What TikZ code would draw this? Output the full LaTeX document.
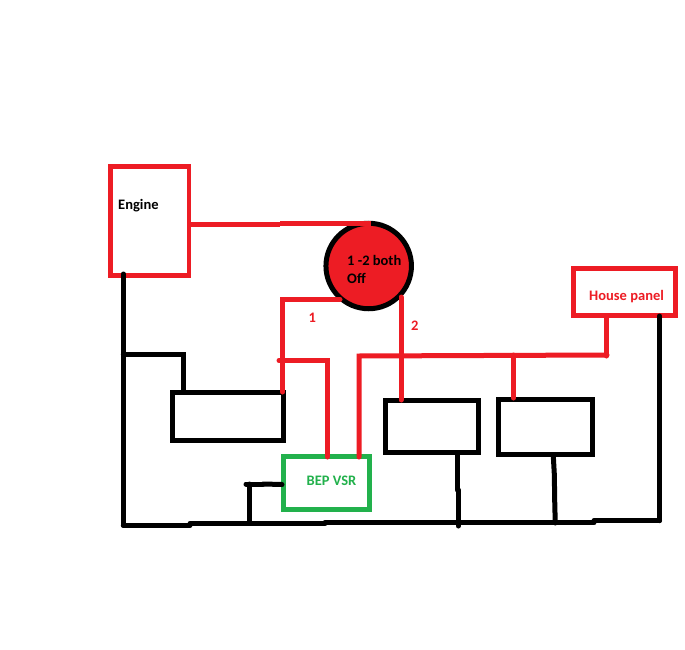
\documentclass[tikz,border=0pt]{standalone}
\usepackage{fontspec}
\setmainfont{Carlito}[BoldFont=* Bold]
\definecolor{wred}{HTML}{ED1C24}
\definecolor{wgreen}{HTML}{22B14C}
\tikzset{
  box/.style={draw=#1,line width=4.5pt,inner sep=0pt},
  lab/.style={anchor=west,inner sep=0pt,font=\fontsize{14.5}{16}\selectfont\bfseries,text=#1},
  redw/.style={draw=wred,line width=5pt,line cap=round,line join=miter},
  blkw/.style={draw=black,line width=5pt,line cap=round,line join=miter}
}
\newcommand{\boxat}[6]{\node[box=#6,minimum width=#4-#2,minimum height=#5-#3] (#1) at ({(#2+#4)/2},{(#3+#5)/2}) {};}
\begin{document}
\begin{tikzpicture}[x=1pt,y=-1pt]
\useasboundingbox[fill=white] (0,0) rectangle (685,650);
% boxes
\boxat{engine}{110.5}{166.5}{188.8}{275.5}{wred}
\boxat{house}{573.5}{268.5}{675.7}{315.5}{wred}
\boxat{batA}{172.5}{392.5}{283.5}{440.5}{black}
\boxat{batB}{385.5}{400.5}{478.5}{452.5}{black}
\boxat{batC}{498.5}{399.5}{592.7}{454.5}{black}
\boxat{vsr}{283.5}{456.5}{369.7}{509.7}{wgreen}
\node[circle,draw=black,fill=wred,line width=5pt,minimum size=85.5pt,inner sep=0pt] (sw) at (368.7,266) {};
% junctions and wire ends
\coordinate (e1) at (191,224);
\coordinate (e2) at (280,224);
\coordinate (e3) at (280,223.5);
\coordinate (s1) at (371,223.5);
\coordinate (w1a) at (340,299.5);
\coordinate (w1b) at (282.5,299.5);
\coordinate (a1) at (282.5,392);
\coordinate (j1) at (279,360.5);
\coordinate (j2) at (327.5,360.5);
\coordinate (v1) at (327.5,457);
\coordinate (v2) at (359,457);
\coordinate (b1) at (359,356);
\coordinate (b2) at (607,355);
\coordinate (h1) at (606.5,317);
\coordinate (h3) at (606.5,356);
\coordinate (s2) at (401,297);
\coordinate (b3) at (401,400);
\coordinate (j3) at (513.5,355);
\coordinate (c1) at (513.5,398);
\coordinate (g0) at (123.3,274);
\coordinate (g1) at (123.3,525.3);
\coordinate (g2) at (190,525.3);
\coordinate (g3) at (190,523.5);
\coordinate (g4) at (325,523.5);
\coordinate (g5) at (325,522.7);
\coordinate (g6) at (594,522.7);
\coordinate (g7) at (594,520.7);
\coordinate (g8) at (659.5,520.7);
\coordinate (h2) at (659.5,316);
\coordinate (k1) at (123.3,354);
\coordinate (k2) at (183.5,354);
\coordinate (k3) at (183.5,392);
\coordinate (m1) at (457.3,454);
\coordinate (m2) at (457.3,490);
\coordinate (m3) at (458.3,490);
\coordinate (m4) at (458.3,526);
\coordinate (n1) at (553.3,456);
\coordinate (n2) at (554.3,474);
\coordinate (n3) at (554.8,506);
\coordinate (n4) at (555.3,523);
\coordinate (t1) at (249.3,523);
\coordinate (t2) at (249.3,484);
\coordinate (t3) at (246,484);
\coordinate (t4) at (263,484);
\coordinate (t5) at (282,484.5);
% red wires
\draw[redw,line cap=butt] (e1) -- (e2);
\draw[redw,line cap=butt] (e3) -- (s1);
\draw[redw] (w1a) -- (w1b) -- (a1);
\draw[redw] (j1) -- (j2) -- (v1);
\draw[redw] (v2) -- (b1) -- (b2);
\draw[redw] (h1) -- (h3);
\draw[redw] (s2) -- (b3);
\draw[redw] (j3) -- (c1);
% black wires
\draw[blkw] (g0) -- (g1);
\draw[blkw] (g1) -- (g2);
\draw[blkw] (g3) -- (g4);
\draw[blkw] (g5) -- (g6);
\draw[blkw] (g7) -- (g8);
\draw[blkw] (g8) -- (h2);
\draw[blkw] (k1) -- (k2) -- (k3);
\draw[blkw] (m1) -- (m2);
\draw[blkw] (m3) -- (m4);
\draw[blkw] (n1) -- (n2) -- (n3) -- (n4);
\draw[blkw] (t1) -- (t2);
\draw[blkw] (t3) -- (t4);
\draw[blkw] (t4) -- (t5);
% labels
\node[lab=black] (tEngine) at (118,205.5) {Engine};
\node[lab=black] (tSw1) at (347,260) {1 -2 both};
\node[lab=black] (tSw2) at (347,278) {Off};
\node[lab=wred] (t1lab) at (308.5,317.5) {1};
\node[lab=wred] (t2lab) at (411,325.5) {2};
\node[lab=wred] (tHouse) at (589,296.5) {House panel};
\node[lab=wgreen] (tVsr) at (306.5,481) {BEP VSR};
\end{tikzpicture}
\end{document}
